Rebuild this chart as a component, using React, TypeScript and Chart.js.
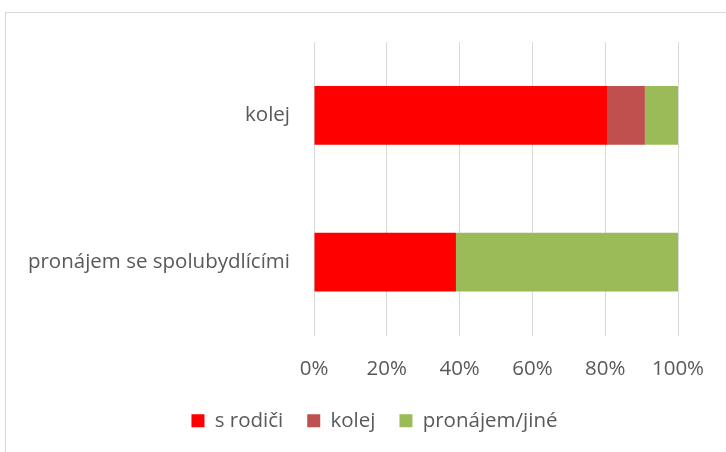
import React, { useEffect, useRef } from "react";
import { Chart, registerables } from "chart.js";

Chart.register(...registerables);

const categories = ["kolej", "pronájem se spolubydlícími"];
const seriesNames = ["s rodiči", "kolej", "pronájem/jiné"];
const sRodici = [80.7, 39.0];
const kolej = [10.2, 0];
const pronajem = [9.1, 61.0];
const tickLabels = ["0%", "20%", "40%", "60%", "80%", "100%"];
const colors = ["#FF0000", "#C0504D", "#9BBB59"];

const FONT = "'Open Sans', 'Liberation Sans', sans-serif";
const TEXT = "#595959";
const GRID = "#D9D9D9";
const FS = 20.5;

const legendShift = {
  id: "legendShift",
  afterLayout(chart: any) {
    const l = chart.legend;
    if (l) {
      l.left += 32.5;
      l.right += 32.5;
    }
  },
};

export default function App() {
  const ref = useRef<HTMLCanvasElement | null>(null);
  useEffect(() => {
    if (!ref.current) return;
    const chart = new Chart(ref.current, {
      type: "bar",
      data: {
        labels: categories,
        datasets: [sRodici, kolej, pronajem].map((d, i) => ({
          label: seriesNames[i],
          data: d,
          backgroundColor: colors[i],
          borderWidth: 0,
          categoryPercentage: 1,
          barPercentage: 0.4,
        })),
      },
      plugins: [legendShift],
      options: {
        indexAxis: "y",
        animation: false,
        responsive: false,
        maintainAspectRatio: false,
        layout: { padding: { top: 29, right: 66, bottom: 11, left: 0 } },
        plugins: {
          legend: {
            position: "bottom",
            labels: {
              font: { family: FONT, size: FS },
              color: TEXT,
              boxWidth: 13,
              boxHeight: 13,
              padding: 24,
            },
          },
          tooltip: { enabled: false },
        },
        scales: {
          x: {
            stacked: true,
            min: 0,
            max: 100,
            afterFit: (s: any) => {
              s.height = 51;
            },
            afterBuildTicks: (s: any) => {
              s.ticks = tickLabels.map((_, i) => ({ value: i * 20 }));
            },
            ticks: {
              callback: (_v: any, i: number) => tickLabels[i],
              font: { family: FONT, size: FS },
              color: TEXT,
              padding: 21,
              maxRotation: 0,
            },
            grid: { color: GRID, lineWidth: 1, drawTicks: false },
            border: { display: false },
          },
          y: {
            stacked: true,
            afterFit: (s: any) => {
              s.width = 308;
              s.paddingTop = 0;
              s.paddingBottom = 0;
            },
            ticks: {
              font: { family: FONT, size: FS },
              color: TEXT,
              padding: 24,
            },
            grid: { display: false, drawTicks: false },
            border: { display: true, color: GRID },
          },
        },
      },
    });
    return () => chart.destroy();
  }, []);
  return (
    <div
      style={{
        position: "absolute",
        left: 5,
        top: 12,
        width: 740,
        height: 450,
        border: "1px solid #D9D9D9",
        boxSizing: "content-box",
        background: "#fff",
      }}
    >
      <canvas ref={ref} width={738} height={439} style={{ display: "block" }} />
    </div>
  );
}
